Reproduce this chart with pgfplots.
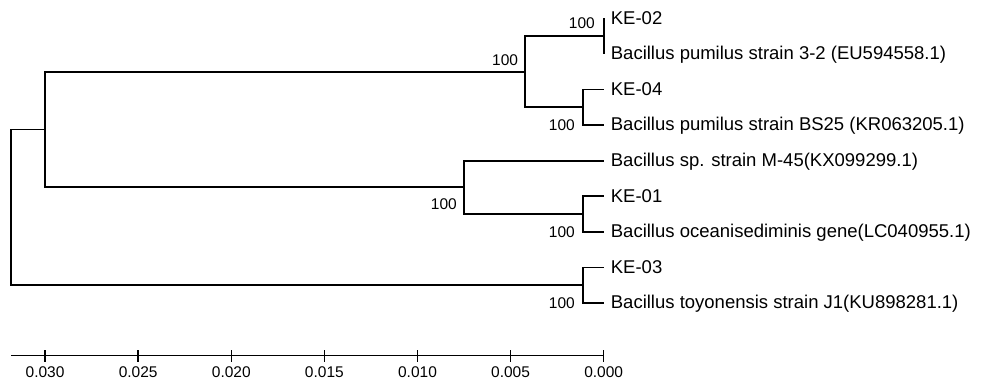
\documentclass[border=0pt]{standalone}
\usepackage{pgfplots}
\pgfplotsset{compat=1.18}
\usepackage{fontspec}
\setmainfont{Liberation Sans}
\newcommand{\leaffont}{\fontsize{18.5}{21}\selectfont}
\newcommand{\bsfont}{\fontsize{15.5}{18}\selectfont}
\begin{document}
\begin{tikzpicture}
\begin{axis}[
  scale only axis, width=592.7pt, height=355.7pt,
  xmin=0, xmax=0.03183, ymin=-10.478, ymax=-0.486,
  x dir=reverse,
  axis x line*=bottom, axis y line=none,
  x axis line style={-, line width=1.4pt, black},
  xtick={0,0.005,0.010,0.015,0.020,0.025,0.030},
  ytick=\empty,
  scaled x ticks=false,
  tick align=center, major tick length=11.7pt,
  every tick/.style={black, line width=1.4pt},
  xticklabel style={/pgf/number format/.cd, fixed, fixed zerofill, precision=3, assume math mode=true, /tikz/.cd, font=\bsfont, text=black, yshift=-1.5pt},
  clip=false,
  tree/.style={line width=1.8pt, black, no markers},
]
% root
\addplot[tree] coordinates {(0.0300,-4.125) (0.03183,-4.125) (0.03183,-8.5) (0.00113,-8.5)};
% node A
\addplot[tree] coordinates {(0.00421,-2.5) (0.0300,-2.5) (0.0300,-5.75) (0.0075,-5.75)};
% node B
\addplot[tree] coordinates {(0,-1.5) (0.00421,-1.5) (0.00421,-3.5) (0.00113,-3.5)};
% KE-02 clade
\addplot[tree] coordinates {(0,-1) (0,-2)};
% KE-04 clade
\addplot[tree] coordinates {(0,-3) (0.00113,-3) (0.00113,-4) (0,-4)};
% node C
\addplot[tree] coordinates {(0,-5) (0.0075,-5) (0.0075,-6.5) (0.00113,-6.5)};
% KE-01 clade
\addplot[tree] coordinates {(0,-6) (0.00113,-6) (0.00113,-7) (0,-7)};
% KE-03 clade
\addplot[tree] coordinates {(0,-8) (0.00113,-8) (0.00113,-9) (0,-9)};

% leaf labels
\begin{scope}[every node/.style={anchor=base west, inner sep=0pt, xshift=7pt, yshift=-5.8pt, font=\leaffont}]
\node at (axis cs:0,-1) {KE-02};
\node at (axis cs:0,-2) {Bacillus pumilus strain 3-2 (EU594558.1)};
\node at (axis cs:0,-3) {KE-04};
\node at (axis cs:0,-4) {Bacillus pumilus strain BS25 (KR063205.1)};
\node at (axis cs:0,-5) {Bacillus sp. strain M-45(KX099299.1)};
\node at (axis cs:0,-6) {KE-01};
\node at (axis cs:0,-7) {Bacillus oceanisediminis gene(LC040955.1)};
\node at (axis cs:0,-8) {KE-03};
\node at (axis cs:0,-9) {Bacillus toyonensis strain J1(KU898281.1)};
\end{scope}

% bootstrap values
\begin{scope}[every node/.style={anchor=east, inner sep=0pt, font=\bsfont}]
\node at (axis cs:0.000467,-1.126) {100};
\node at (axis cs:0.004586,-2.171) {100};
\node at (axis cs:0.001541,-4) {100};
\node at (axis cs:0.007879,-6.216) {100};
\node at (axis cs:0.001541,-7) {100};
\node at (axis cs:0.001541,-9) {100};
\end{scope}

\coordinate (ll) at (axis cs:0.03183,-10.478);
\end{axis}
\pgfresetboundingbox
\path[use as bounding box] (ll) ++(-11pt,-25.3pt) rectangle ++(986pt,381pt);
\end{tikzpicture}
\end{document}
